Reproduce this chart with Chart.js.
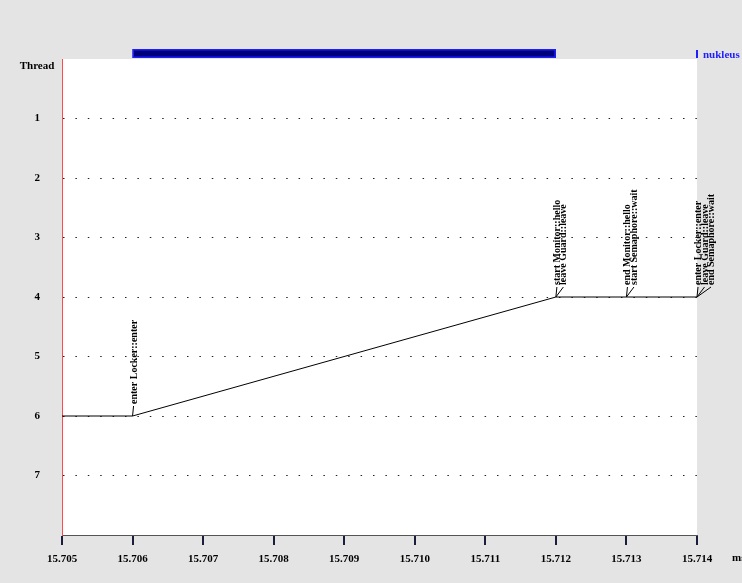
<!DOCTYPE html>
<html>
<head>
<meta charset="utf-8">
<script src="https://cdn.jsdelivr.net/npm/chart.js@4/dist/chart.umd.min.js"></script>
<style>
  html, body { margin: 0; padding: 0; background: #e4e4e4; }
  canvas { display: block; }
</style>
</head>
<body>
<canvas id="trace" width="742" height="583"></canvas>
<script>
// Time axis (ms) and thread axis
const timeTicks = [15.705, 15.706, 15.707, 15.708, 15.709, 15.710, 15.711, 15.712, 15.713, 15.714];
const threadTicks = [1, 2, 3, 4, 5, 6, 7];
const timeUnit = 'ms';
const threadTitle = 'Thread';

// Execution path: which thread runs at each moment
const pathTimes = [15.705, 15.706, 15.712, 15.714];
const pathThreads = [6, 6, 4, 4];

// Annotated events along the path
const eventTimes = [15.706, 15.712, 15.713, 15.714];
const eventThreads = [6, 4, 4, 4];
const eventLabels = [
  ['enter Locker::enter'],
  ['start Monitor::hello', 'leave Guard::leave'],
  ['end Monitor::hello', 'start Semaphore::wait'],
  ['enter Locker::enter', 'leave Guard::leave', 'end Semaphore::wait']
];

// Activity spans shown above the plot
const spanNames = ['nukleus'];
const spanStarts = [15.706];
const spanEnds = [15.712];

const FONT = '"Liberation Serif", "Times New Roman", serif';
const tickFont = { family: FONT, size: 11, weight: 'bold' };

const tracePlugin = {
  id: 'traceDecor',
  beforeDraw(chart) {
    const { ctx, chartArea: a } = chart;
    ctx.save();
    ctx.fillStyle = '#e4e4e4';
    ctx.fillRect(0, 0, chart.width, chart.height);
    ctx.fillStyle = '#ffffff';
    ctx.fillRect(a.left, a.top, a.right - a.left, a.bottom - a.top);
    ctx.restore();
  },
  afterDraw(chart) {
    const { ctx, chartArea: a } = chart;
    const xs = chart.scales.x, ys = chart.scales.y;
    ctx.save();

    // span bars above the plot + legend entry
    spanNames.forEach((name, i) => {
      const x1 = xs.getPixelForValue(spanStarts[i]);
      const x2 = xs.getPixelForValue(spanEnds[i]);
      ctx.fillStyle = '#00007a';
      ctx.fillRect(x1, 49, x2 - x1, 9);
      ctx.strokeStyle = '#1e1eff';
      ctx.lineWidth = 1.5;
      ctx.strokeRect(x1 + 0.75, 49.75, x2 - x1 - 1.5, 7.5);
      ctx.fillStyle = '#1e1eff';
      ctx.fillRect(a.right - 1, 50, 2, 8);
      ctx.font = 'bold 11px ' + FONT;
      ctx.textAlign = 'left';
      ctx.textBaseline = 'middle';
      ctx.fillText(name, a.right + 6, 55);
    });

    // axis captions
    ctx.fillStyle = '#000';
    ctx.font = 'bold 11px ' + FONT;
    ctx.textAlign = 'center';
    ctx.textBaseline = 'middle';
    ctx.fillText(threadTitle, 37, 66);
    ctx.textAlign = 'left';
    ctx.fillText(timeUnit, 732, 558);

    // event labels with connectors
    ctx.font = 'bold 10px ' + FONT;
    ctx.strokeStyle = '#000';
    ctx.lineWidth = 1;
    eventTimes.forEach((t, i) => {
      const px = xs.getPixelForValue(t);
      const py = ys.getPixelForValue(eventThreads[i]);
      eventLabels[i].forEach((txt, j) => {
        const base = px + 4 + j * 6.5;
        const cx = base - 3;
        ctx.beginPath();
        ctx.moveTo(px, py);
        ctx.lineTo(cx, py - 10);
        ctx.stroke();
        ctx.save();
        ctx.translate(base, py - 12);
        ctx.rotate(-Math.PI / 2);
        ctx.textAlign = 'left';
        ctx.textBaseline = 'alphabetic';
        ctx.fillStyle = '#000';
        ctx.fillText(txt, 0, 0);
        ctx.restore();
      });
    });
    ctx.restore();
  }
};

new Chart(document.getElementById('trace'), {
  type: 'scatter',
  data: {
    datasets: [{
      data: pathTimes.map((t, i) => ({ x: t, y: pathThreads[i] })),
      showLine: true,
      borderColor: '#000',
      borderWidth: 1,
      pointRadius: 0,
      tension: 0
    }]
  },
  options: {
    responsive: false,
    devicePixelRatio: 1,
    animation: false,
    layout: { padding: { top: 59, right: 45, left: 0, bottom: 0 } },
    plugins: { legend: { display: false }, tooltip: { enabled: false } },
    scales: {
      x: {
        type: 'linear',
        min: timeTicks[0],
        max: timeTicks[timeTicks.length - 1],
        afterBuildTicks: s => { s.ticks = timeTicks.map(v => ({ value: v })); },
        afterFit: s => { s.height = 48; },
        ticks: {
          font: tickFont, color: '#000', padding: 8,
          maxRotation: 0, autoSkip: false,
          callback: v => Number(v).toFixed(3)
        },
        grid: { drawOnChartArea: false, drawTicks: true, tickLength: 10, color: '#1c1c3c', lineWidth: 2 },
        border: { color: '#555', width: 1 }
      },
      y: {
        type: 'linear',
        reverse: true,
        min: 0,
        max: 8,
        afterBuildTicks: s => { s.ticks = threadTicks.map(v => ({ value: v })); },
        afterFit: s => { s.width = 62; },
        ticks: {
          font: tickFont, color: '#000', padding: 22, crossAlign: 'center',
          callback: v => String(v)
        },
        grid: { drawTicks: false, color: '#222', lineWidth: 1 },
        border: { color: '#ff4a4a', width: 1, dash: [1.5, 10.9] }
      }
    }
  },
  plugins: [tracePlugin]
});
</script>
</body>
</html>
